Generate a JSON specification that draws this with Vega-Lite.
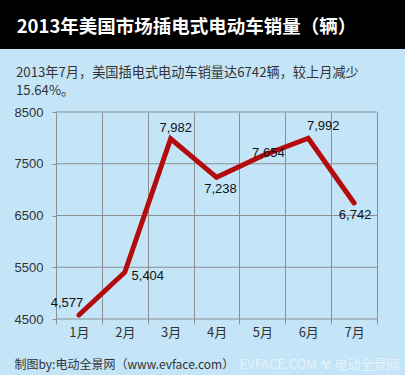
{
  "$schema": "https://vega.github.io/schema/vega-lite/v6.json",
  "background": "#c4e5f7",
  "padding": 0,
  "autosize": {"type": "pad"},
  "spacing": 16,
  "config": {"font": "Liberation Sans"},
  "datasets": {
    "sales": [
      {"month": "1月", "sales": 4577},
      {"month": "2月", "sales": 5404},
      {"month": "3月", "sales": 7982},
      {"month": "4月", "sales": 7238},
      {"month": "5月", "sales": 7654},
      {"month": "6月", "sales": 7992},
      {"month": "7月", "sales": 6742}
    ],
    "grid": [{"v": 4500}, {"v": 5500}, {"v": 6500}, {"v": 7500}, {"v": 8500}],
    "head": [{"t": "2013年美国市场插电式电动车销量（辆）"}],
    "foot": [
      {"t": "制图by:电动全景网（www.evface.com）", "k": "src"},
      {"t": "EVFACE.COM ☢ 电动全景网", "k": "wm"}
    ]
  },
  "vconcat": [
    {
      "width": 405,
      "height": 49,
      "view": {"fill": "#000000", "stroke": null},
      "data": {"name": "head"},
      "mark": {"type": "text", "color": "#ffffff", "font": "Noto Sans CJK SC", "fontWeight": "bold", "fontSize": 18.5, "dx": -16, "dy": 2, "baseline": "middle", "align": "center"},
      "encoding": {"text": {"field": "t"}}
    },
    {
      "width": 405,
      "height": 207,
      "view": {"stroke": null},
      "title": {
        "text": ["2013年7月，美国插电式电动车销量达6742辆，较上月减少", "15.64%。"],
        "anchor": "start",
        "frame": "group",
        "dx": 16,
        "font": "Noto Sans CJK SC",
        "fontSize": 13.2,
        "fontWeight": "normal",
        "color": "#333333",
        "lineHeight": 18,
        "baseline": "top",
        "offset": 8
      },
      "encoding": {
        "x": {
          "field": "month", "type": "ordinal", "sort": null,
          "scale": {"domain": ["1月", "2月", "3月", "4月", "5月", "6月", "7月"], "paddingInner": 0, "paddingOuter": 0.916, "align": 0.667},
          "axis": {
            "title": null, "labelAngle": 0, "tickBand": "extent", "domain": false,
            "grid": true, "gridColor": "#8a8f94", "gridOpacity": 1,
            "tickColor": "#8a8f94", "tickSize": 5,
            "labelFont": "Noto Sans CJK SC", "labelFontSize": 13, "labelColor": "#333333", "labelPadding": 2
          }
        },
        "y": {
          "field": "sales", "type": "quantitative",
          "scale": {"domain": [4500, 8500], "nice": false, "zero": false},
          "axis": {
            "title": null, "values": [4500, 5500, 6500, 7500, 8500], "format": "d",
            "grid": false, "offset": -56,
            "tickColor": "#8a8f94", "tickSize": 4, "domainColor": "#8a8f94",
            "labelFont": "Liberation Sans", "labelFontSize": 13, "labelColor": "#333333", "labelPadding": 9
          }
        }
      },
      "layer": [
        {
          "data": {"name": "grid"},
          "mark": {"type": "rule", "color": "#8a8f94", "strokeWidth": 1},
          "encoding": {
            "y": {"field": "v", "type": "quantitative"},
            "x": {"datum": "1月", "type": "ordinal", "bandPosition": 0},
            "x2": {"datum": "7月", "bandPosition": 1}
          }
        },
        {"data": {"name": "sales"}, "mark": {"type": "line", "color": "#b40c0c", "strokeWidth": 5, "strokeCap": "round", "strokeJoin": "miter"}},
        {"data": {"name": "sales"}, "transform": [{"filter": "datum.month == '1月'"}], "mark": {"type": "text", "fontSize": 13, "color": "#111111", "dx": -12, "dy": -12}, "encoding": {"text": {"field": "sales", "format": ","}}},
        {"data": {"name": "sales"}, "transform": [{"filter": "datum.month == '2月'"}], "mark": {"type": "text", "fontSize": 13, "color": "#111111", "dx": 23, "dy": 4}, "encoding": {"text": {"field": "sales", "format": ","}}},
        {"data": {"name": "sales"}, "transform": [{"filter": "datum.month == '3月'"}], "mark": {"type": "text", "fontSize": 13, "color": "#111111", "dx": 5, "dy": -11}, "encoding": {"text": {"field": "sales", "format": ","}}},
        {"data": {"name": "sales"}, "transform": [{"filter": "datum.month == '4月'"}], "mark": {"type": "text", "fontSize": 13, "color": "#111111", "dx": 4, "dy": 12}, "encoding": {"text": {"field": "sales", "format": ","}}},
        {"data": {"name": "sales"}, "transform": [{"filter": "datum.month == '5月'"}], "mark": {"type": "text", "fontSize": 13, "color": "#111111", "dx": 6, "dy": -3}, "encoding": {"text": {"field": "sales", "format": ","}}},
        {"data": {"name": "sales"}, "transform": [{"filter": "datum.month == '6月'"}], "mark": {"type": "text", "fontSize": 13, "color": "#111111", "dx": 15, "dy": -12}, "encoding": {"text": {"field": "sales", "format": ","}}},
        {"data": {"name": "sales"}, "transform": [{"filter": "datum.month == '7月'"}], "mark": {"type": "text", "fontSize": 13, "color": "#111111", "dx": 1, "dy": 12}, "encoding": {"text": {"field": "sales", "format": ","}}}
      ]
    },
    {
      "width": 405,
      "height": 20,
      "view": {"stroke": null},
      "data": {"name": "foot"},
      "layer": [
        {"transform": [{"filter": "datum.k == 'src'"}], "mark": {"type": "text", "align": "left", "baseline": "middle", "dx": -188, "dy": 0, "font": "Noto Sans CJK SC", "fontSize": 12, "color": "#333333"}, "encoding": {"text": {"field": "t"}}},
        {"transform": [{"filter": "datum.k == 'wm'"}], "mark": {"type": "text", "align": "right", "baseline": "middle", "dx": 197, "dy": 0, "font": "Noto Sans CJK SC", "fontSize": 13, "color": "#ffffff", "opacity": 0.55}, "encoding": {"text": {"field": "t"}}}
      ]
    }
  ]
}
